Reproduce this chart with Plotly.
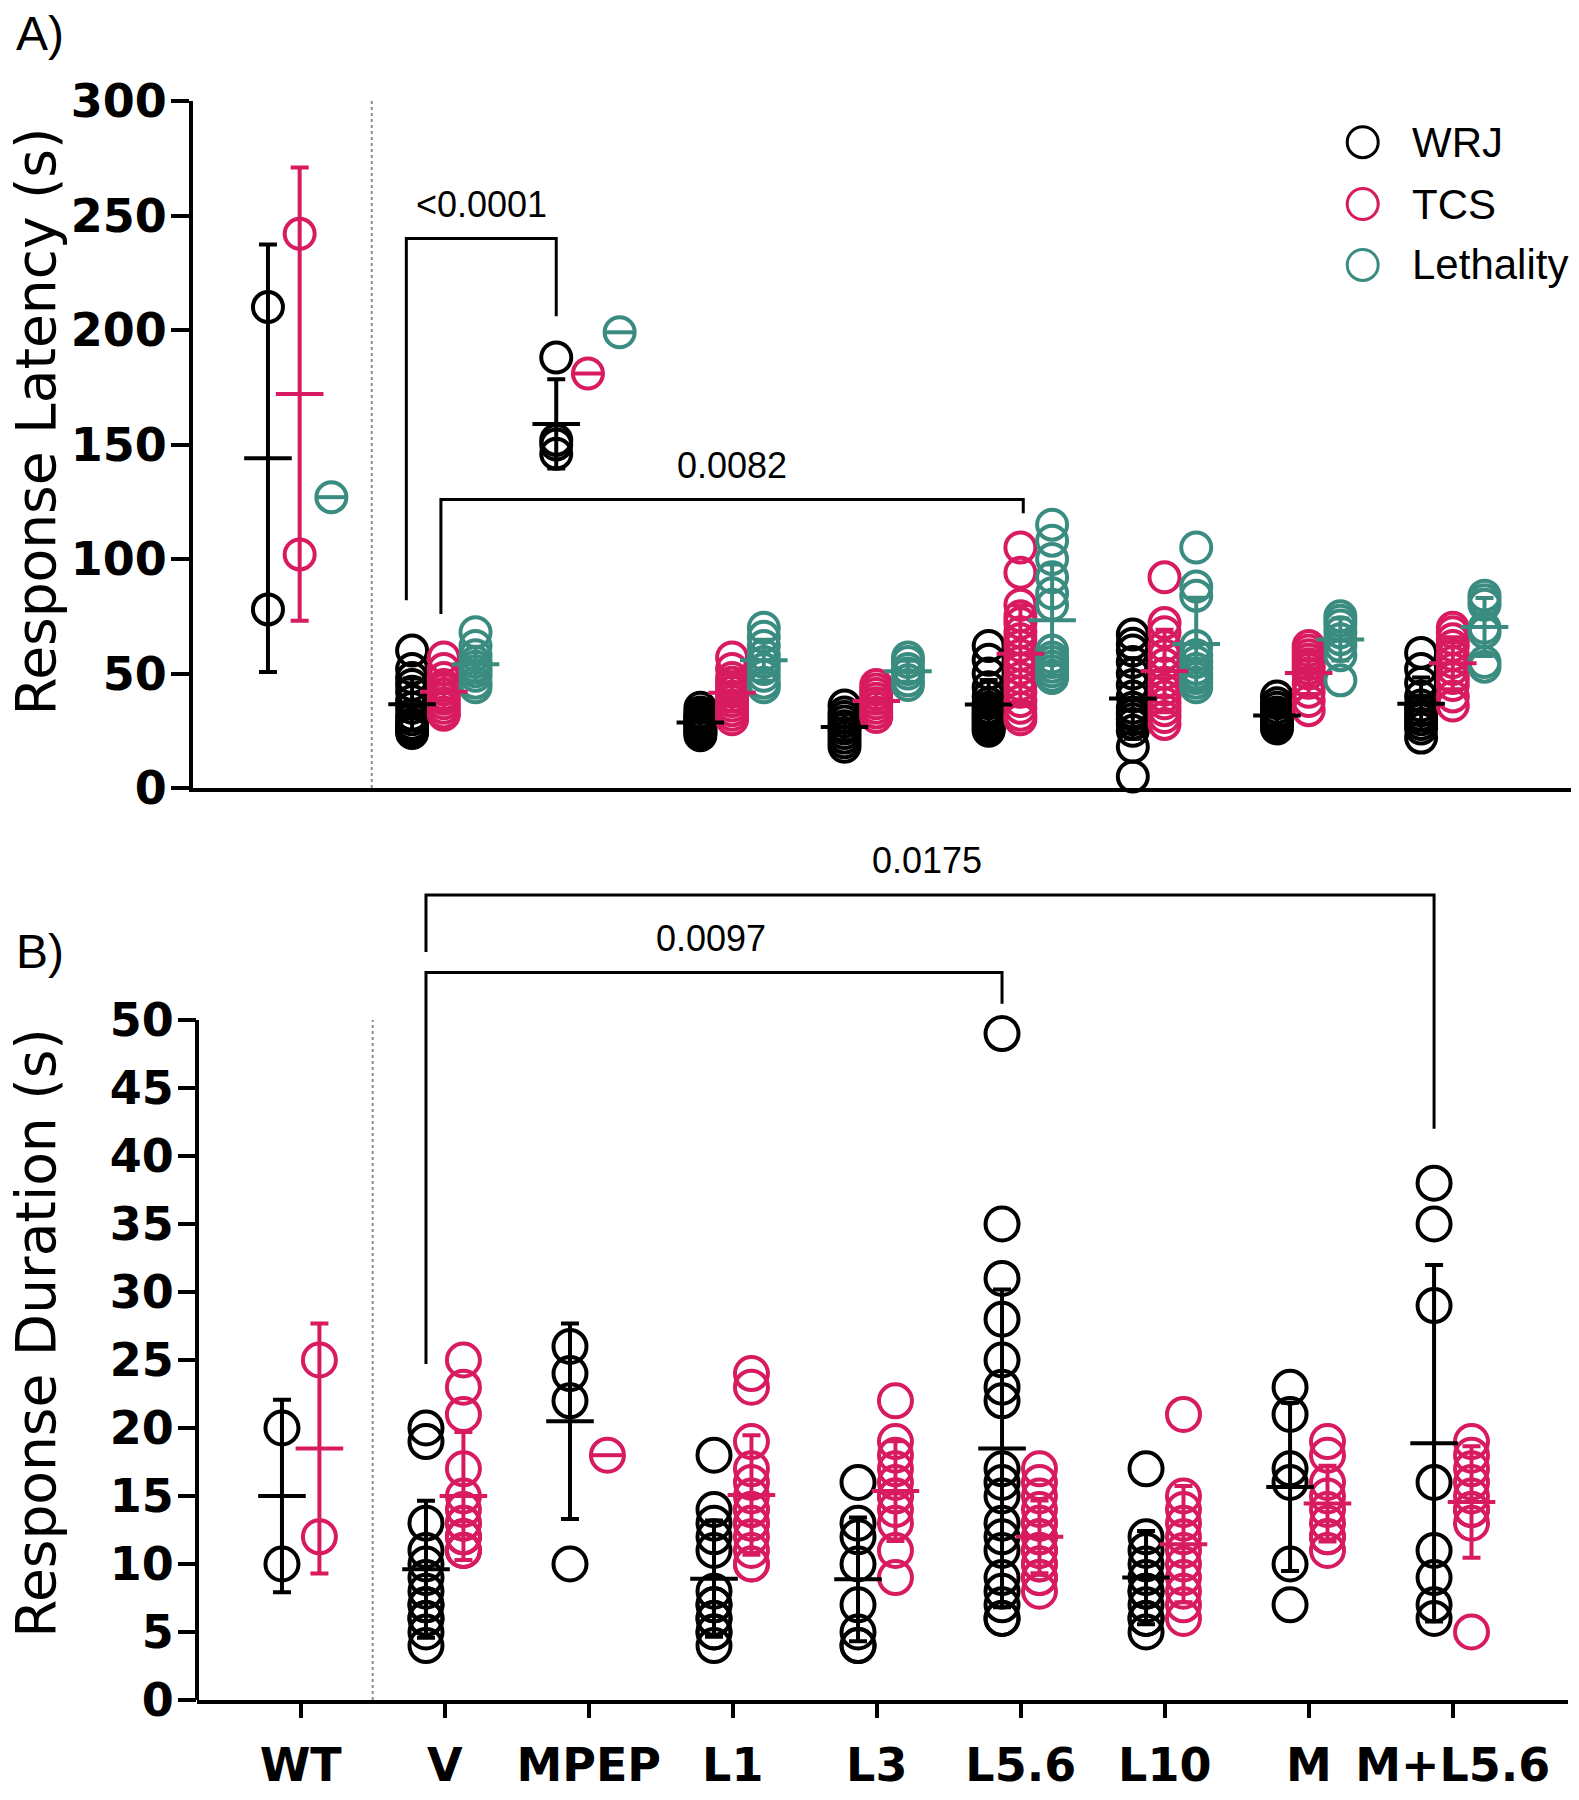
import numpy as np
import plotly.graph_objects as go

# ---------------- data ----------------
groups = ["WT", "V", "MPEP", "L1", "L3", "L5.6", "L10", "M", "M+L5.6"]
series = ["WRJ", "TCS", "Lethality"]
colors = ["#000000", "#D81B60", "#3A8C80"]

# Panel A: Response latency (s), one list per group (order of `groups`)
latency_wrj = [
    [210, 78],
    [60, 52, 48, 45, 42, 38, 35, 32, 30, 28, 27, 26, 25, 24],
    [188, 152, 150, 146],
    [35, 33, 32, 31, 30, 30, 29, 28, 28, 27, 26, 25, 24, 23],
    [36, 33, 31, 29, 27, 26, 24, 22, 20, 18],
    [62, 56, 50, 44, 40, 37, 35, 34, 33, 32, 31, 30, 29, 28, 27, 26, 25],
    [67, 63, 60, 55, 50, 45, 40, 35, 33, 32, 30, 28, 25, 18, 5],
    [40, 37, 35, 33, 32, 31, 30, 29, 28, 27, 26],
    [59, 52, 46, 40, 36, 34, 32, 30, 28, 26, 22],
]
latency_tcs = [
    [242, 102],
    [57, 52, 48, 45, 43, 41, 39, 37, 35, 33, 32],
    [181],
    [57, 52, 48, 46, 44, 42, 40, 38, 36, 34, 32, 30],
    [45, 43, 41, 39, 37, 35, 33, 31],
    [105, 94, 80, 75, 72, 68, 65, 62, 58, 55, 52, 48, 45, 42, 38, 35, 32, 30],
    [92, 72, 68, 62, 58, 54, 50, 46, 43, 40, 37, 34, 31, 28],
    [62, 60, 58, 56, 54, 52, 50, 46, 42, 38, 34],
    [70, 68, 65, 62, 58, 55, 52, 48, 45, 40, 36],
]
latency_leth = [
    [127],
    [68, 62, 58, 55, 53, 51, 49, 46, 44],
    [199],
    [70, 66, 62, 58, 55, 52, 49, 46, 44],
    [57, 55, 52, 50, 47, 45],
    [115, 108, 100, 92, 85, 80, 60, 57, 55, 53, 51, 49, 48],
    [105, 88, 84, 62, 58, 55, 52, 50, 48, 46, 44],
    [75, 73, 71, 68, 65, 62, 58, 47],
    [84, 82, 80, 70, 68, 55, 53],
]

# Panel B: Response duration (s)
duration_wrj = [
    [20, 10],
    [20, 19, 13, 11, 10, 9, 8, 7, 7, 6, 6, 5, 4],
    [26, 24, 22, 10],
    [18, 14, 13, 12, 11, 8, 7, 7, 6, 6, 5, 5, 4],
    [16, 13, 12, 10, 7, 5, 4, 4],
    [49, 35, 31, 28, 25, 23, 22, 17, 16, 15, 13, 12, 11, 9, 8, 7, 6, 6],
    [17, 12, 11, 10, 9, 8, 8, 7, 6, 6, 5],
    [23, 21, 17, 16, 10, 7],
    [38, 35, 29, 16, 11, 9, 7, 6],
]
duration_tcs = [
    [25, 12],
    [25, 23, 21, 17, 15, 14, 13, 13, 12, 12, 12, 11, 11, 11],
    [18],
    [24, 23, 19, 17, 16, 15, 14, 14, 13, 13, 12, 11, 10, 10],
    [22, 19, 18, 17, 16, 15, 15, 14, 13, 11, 9],
    [17, 16, 15, 14, 13, 13, 12, 12, 11, 11, 10, 10, 9, 9, 8],
    [21, 15, 14, 13, 12, 11, 10, 9, 8, 7, 6],
    [19, 18, 16, 15, 14, 13, 12, 12, 11],
    [19, 18, 17, 16, 15, 14, 14, 13, 5],
]

latency_ticks = [0, 50, 100, 150, 200, 250, 300]
duration_ticks = [0, 5, 10, 15, 20, 25, 30, 35, 40, 45, 50]

# significance brackets: (x_left, y_left_end, x_right, y_right_end, y_top, label, label_x, label_y)
brackets_a = [
    (0.74, 82, 1.78, 206, 240, "<0.0001", 1.26, 255),
    (0.98, 76, 5.02, 120, 126, "0.0082", 3.0, 141),
]
brackets_b = [
    (0.87, 55, 7.87, 42, 59.2, "0.0175", 4.35, 61.7),
    (0.87, 24.7, 4.87, 51.2, 53.5, "0.0097", 2.85, 56.0),
]

# ---------------- styling ----------------
TICK_FONT = dict(family="DejaVu Sans", size=46, color="black", weight="bold")
TITLE_FONT = dict(family="DejaVu Sans", size=55, color="black")
TEXT_FONT = dict(family="Liberation Sans", size=36, color="black")

W, H = 1579, 1800
fig = go.Figure()


def add_panel(datasets, offsets, xa, ya, msize, mlw):
    # raw points
    for (name, data, col, off) in zip(series, datasets, colors, offsets):
        xs, ys = [], []
        for g, vals in enumerate(data):
            xs += [g + off] * len(vals)
            ys += list(vals)
        fig.add_trace(go.Scatter(
            x=xs, y=ys, mode="markers", xaxis=xa, yaxis=ya, name=name,
            showlegend=False, cliponaxis=False, hoverinfo="skip",
            marker=dict(symbol="circle-open", size=msize, color=col,
                        line=dict(width=mlw, color=col)),
        ))
    # mean +/- SD
    for (name, data, col, off) in zip(series, datasets, colors, offsets):
        for g, vals in enumerate(data):
            v = np.array(vals, dtype=float)
            m = float(v.mean())
            sd = float(v.std(ddof=1)) if len(v) > 1 else 0.0
            fig.add_trace(go.Scatter(
                x=[g + off], y=[m], mode="markers", xaxis=xa, yaxis=ya,
                showlegend=False, cliponaxis=False, hoverinfo="skip",
                marker=dict(symbol="line-ew", size=34 if len(v) > 1 else 22,
                            color=col, line=dict(width=4, color=col)),
                error_y=dict(type="data", array=[sd], visible=len(v) > 1,
                             color=col, thickness=4, width=9),
            ))


add_panel([latency_wrj, latency_tcs, latency_leth], [-0.22, 0.0, 0.22],
          "x", "y", 30, 4)
add_panel([duration_wrj, duration_tcs], [-0.13, 0.13], "x2", "y2", 33, 4)

# legend (custom, inside panel A)
legend_x, legend_text_x = 7.375, 7.70
legend_y = [282, 255, 228.4]
fig.add_trace(go.Scatter(
    x=[legend_x] * 3, y=legend_y, mode="markers", xaxis="x", yaxis="y",
    showlegend=False, hoverinfo="skip", cliponaxis=False,
    marker=dict(symbol="circle-open", size=31, color=colors,
                line=dict(width=3, color=colors)),
))
annotations = []
for name, yy in zip(series, legend_y):
    annotations.append(dict(x=legend_text_x, y=yy, xref="x", yref="y", text=name,
                            showarrow=False, xanchor="left", yanchor="middle",
                            font=dict(family="Liberation Sans", size=42, color="black")))

shapes = []
# dotted separators after WT
shapes.append(dict(type="line", xref="x", yref="y", x0=0.5, x1=0.5, y0=0, y1=300,
                   line=dict(color="#8c8c8c", width=2, dash="dot")))
shapes.append(dict(type="line", xref="x2", yref="y2", x0=0.5, x1=0.5, y0=0, y1=50,
                   line=dict(color="#8c8c8c", width=2, dash="dot")))
# y axis line of panel B (only 0..50)
shapes.append(dict(type="line", xref="x2 domain", yref="y2", x0=0, x1=0, y0=0, y1=50,
                   line=dict(color="black", width=4)))


def add_brackets(brs, xr, yr):
    for (xl, yl, xr_, yr_, yt, lab, lx, ly) in brs:
        shapes.append(dict(type="path", xref=xr, yref=yr,
                           path=f"M {xl},{yl} L {xl},{yt} L {xr_},{yt} L {xr_},{yr_}",
                           line=dict(color="black", width=3)))
        annotations.append(dict(x=lx, y=ly, xref=xr, yref=yr, text=lab, showarrow=False,
                                xanchor="center", yanchor="middle", font=TEXT_FONT))


add_brackets(brackets_a, "x", "y")
add_brackets(brackets_b, "x2", "y2")

# axis titles and panel labels
annotations.append(dict(x=36 / W, y=160, xref="paper", yref="y", text="Response Latency (s)",
                        textangle=-90, showarrow=False, xanchor="center", yanchor="middle",
                        font=TITLE_FONT))
annotations.append(dict(x=36 / W, y=27, xref="paper", yref="y2", text="Response Duration (s)",
                        textangle=-90, showarrow=False, xanchor="center", yanchor="middle",
                        font=TITLE_FONT))
annotations.append(dict(x=14 / W, y=1 - 34 / H, xref="paper", yref="paper", text="A)",
                        showarrow=False, xanchor="left", yanchor="middle",
                        font=dict(family="Liberation Sans", size=48, color="black")))
annotations.append(dict(x=14 / W, y=1 - 951 / H, xref="paper", yref="paper", text="B)",
                        showarrow=False, xanchor="left", yanchor="middle",
                        font=dict(family="Liberation Sans", size=48, color="black")))

fig.update_layout(
    width=W, height=H,
    margin=dict(l=0, r=0, t=0, b=0),
    paper_bgcolor="white", plot_bgcolor="white",
    showlegend=False,
    shapes=shapes, annotations=annotations,
    xaxis=dict(domain=[193 / W, 1571 / W], range=[-0.74, 8.82], anchor="y",
               showline=True, linewidth=4, linecolor="black", ticks="",
               showticklabels=False, showgrid=False, zeroline=False, automargin=False),
    yaxis=dict(domain=[1 - 788 / H, 1 - 101 / H], range=[0, 300], anchor="x",
               tickvals=latency_ticks, ticks="outside", ticklen=18, tickwidth=4,
               tickcolor="black", showline=True, linewidth=4, linecolor="black",
               tickfont=TICK_FONT, showgrid=False, zeroline=False, automargin=False,
               ticklabelstandoff=-5),
    xaxis2=dict(domain=[197 / W, 1568 / W], range=[-0.72, 8.80], anchor="y2",
                tickvals=list(range(len(groups))), ticktext=groups,
                ticks="outside", ticklen=14, tickwidth=4, tickcolor="black",
                showline=True, linewidth=4, linecolor="black",
                tickfont=TICK_FONT, showgrid=False, zeroline=False, automargin=False,
                ticklabelstandoff=8),
    yaxis2=dict(domain=[1 - 1700 / H, 1 - (1700 - 63 * 13.6) / H], range=[0, 63], anchor="x2",
                tickvals=duration_ticks, ticks="outside", ticklen=18, tickwidth=4,
                tickcolor="black", showline=False,
                tickfont=TICK_FONT, showgrid=False, zeroline=False, automargin=False,
                ticklabelstandoff=-5),
)

fig.write_html("out.html", config={"displayModeBar": False},
               post_script="document.body.style.margin='0';document.body.style.overflow='hidden';")
